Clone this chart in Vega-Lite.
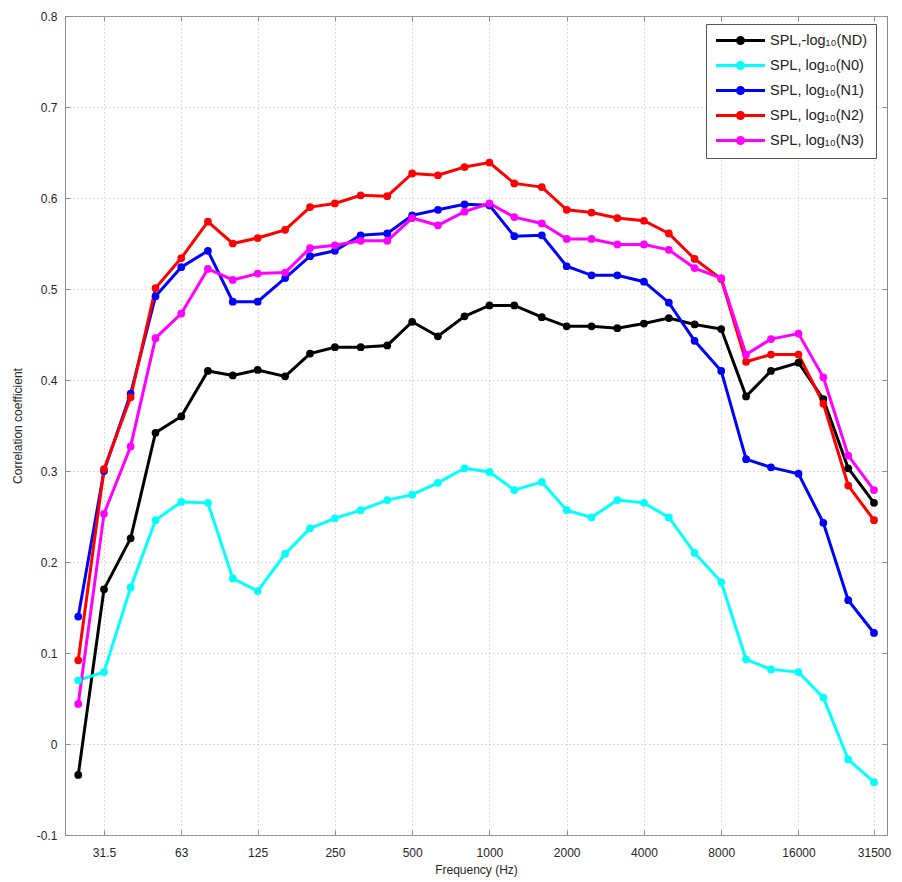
{
  "$schema": "https://vega.github.io/schema/vega-lite/v6.json",
  "width": 822,
  "height": 819,
  "autosize": {"type": "none"},
  "padding": {"left": 65, "top": 16, "right": 15, "bottom": 47},
  "background": "white",
  "config": {
    "view": {"stroke": "#8a8a8a", "strokeWidth": 1},
    "font": "Liberation Sans",
    "axis": {
      "labelFont": "Liberation Sans",
      "titleFont": "Liberation Sans",
      "labelFontSize": 12,
      "titleFontSize": 12,
      "titleFontWeight": "normal",
      "labelColor": "#262626",
      "titleColor": "#262626",
      "tickColor": "#8a8a8a",
      "domain": false,
      "gridColor": "#b8b8b8",
      "gridDash": [1, 3],
      "gridWidth": 1
    }
  },
  "data": {"values": [
    {"f":25,"s":"ND","r":-0.034},{"f":31.5,"s":"ND","r":0.170},{"f":40,"s":"ND","r":0.226},{"f":50,"s":"ND","r":0.342},{"f":63,"s":"ND","r":0.360},{"f":80,"s":"ND","r":0.410},{"f":100,"s":"ND","r":0.405},{"f":125,"s":"ND","r":0.411},{"f":160,"s":"ND","r":0.404},{"f":200,"s":"ND","r":0.429},{"f":250,"s":"ND","r":0.436},{"f":315,"s":"ND","r":0.436},{"f":400,"s":"ND","r":0.438},{"f":500,"s":"ND","r":0.464},{"f":630,"s":"ND","r":0.448},{"f":800,"s":"ND","r":0.470},{"f":1000,"s":"ND","r":0.482},{"f":1250,"s":"ND","r":0.482},{"f":1600,"s":"ND","r":0.469},{"f":2000,"s":"ND","r":0.459},{"f":2500,"s":"ND","r":0.459},{"f":3150,"s":"ND","r":0.457},{"f":4000,"s":"ND","r":0.462},{"f":5000,"s":"ND","r":0.468},{"f":6300,"s":"ND","r":0.461},{"f":8000,"s":"ND","r":0.456},{"f":10000,"s":"ND","r":0.382},{"f":12500,"s":"ND","r":0.410},{"f":16000,"s":"ND","r":0.419},{"f":20000,"s":"ND","r":0.379},{"f":25000,"s":"ND","r":0.303},{"f":31500,"s":"ND","r":0.265},
    {"f":25,"s":"N0","r":0.070},{"f":31.5,"s":"N0","r":0.079},{"f":40,"s":"N0","r":0.172},{"f":50,"s":"N0","r":0.246},{"f":63,"s":"N0","r":0.266},{"f":80,"s":"N0","r":0.265},{"f":100,"s":"N0","r":0.182},{"f":125,"s":"N0","r":0.168},{"f":160,"s":"N0","r":0.209},{"f":200,"s":"N0","r":0.237},{"f":250,"s":"N0","r":0.248},{"f":315,"s":"N0","r":0.257},{"f":400,"s":"N0","r":0.268},{"f":500,"s":"N0","r":0.274},{"f":630,"s":"N0","r":0.287},{"f":800,"s":"N0","r":0.303},{"f":1000,"s":"N0","r":0.299},{"f":1250,"s":"N0","r":0.279},{"f":1600,"s":"N0","r":0.288},{"f":2000,"s":"N0","r":0.257},{"f":2500,"s":"N0","r":0.249},{"f":3150,"s":"N0","r":0.268},{"f":4000,"s":"N0","r":0.265},{"f":5000,"s":"N0","r":0.249},{"f":6300,"s":"N0","r":0.210},{"f":8000,"s":"N0","r":0.178},{"f":10000,"s":"N0","r":0.093},{"f":12500,"s":"N0","r":0.082},{"f":16000,"s":"N0","r":0.079},{"f":20000,"s":"N0","r":0.051},{"f":25000,"s":"N0","r":-0.017},{"f":31500,"s":"N0","r":-0.042},
    {"f":25,"s":"N1","r":0.140},{"f":31.5,"s":"N1","r":0.300},{"f":40,"s":"N1","r":0.385},{"f":50,"s":"N1","r":0.492},{"f":63,"s":"N1","r":0.524},{"f":80,"s":"N1","r":0.542},{"f":100,"s":"N1","r":0.486},{"f":125,"s":"N1","r":0.486},{"f":160,"s":"N1","r":0.512},{"f":200,"s":"N1","r":0.536},{"f":250,"s":"N1","r":0.542},{"f":315,"s":"N1","r":0.559},{"f":400,"s":"N1","r":0.561},{"f":500,"s":"N1","r":0.581},{"f":630,"s":"N1","r":0.587},{"f":800,"s":"N1","r":0.593},{"f":1000,"s":"N1","r":0.592},{"f":1250,"s":"N1","r":0.558},{"f":1600,"s":"N1","r":0.559},{"f":2000,"s":"N1","r":0.525},{"f":2500,"s":"N1","r":0.515},{"f":3150,"s":"N1","r":0.515},{"f":4000,"s":"N1","r":0.508},{"f":5000,"s":"N1","r":0.485},{"f":6300,"s":"N1","r":0.443},{"f":8000,"s":"N1","r":0.410},{"f":10000,"s":"N1","r":0.313},{"f":12500,"s":"N1","r":0.304},{"f":16000,"s":"N1","r":0.297},{"f":20000,"s":"N1","r":0.243},{"f":25000,"s":"N1","r":0.158},{"f":31500,"s":"N1","r":0.122},
    {"f":25,"s":"N2","r":0.092},{"f":31.5,"s":"N2","r":0.302},{"f":40,"s":"N2","r":0.381},{"f":50,"s":"N2","r":0.501},{"f":63,"s":"N2","r":0.534},{"f":80,"s":"N2","r":0.574},{"f":100,"s":"N2","r":0.550},{"f":125,"s":"N2","r":0.556},{"f":160,"s":"N2","r":0.565},{"f":200,"s":"N2","r":0.590},{"f":250,"s":"N2","r":0.594},{"f":315,"s":"N2","r":0.603},{"f":400,"s":"N2","r":0.602},{"f":500,"s":"N2","r":0.627},{"f":630,"s":"N2","r":0.625},{"f":800,"s":"N2","r":0.634},{"f":1000,"s":"N2","r":0.639},{"f":1250,"s":"N2","r":0.616},{"f":1600,"s":"N2","r":0.612},{"f":2000,"s":"N2","r":0.587},{"f":2500,"s":"N2","r":0.584},{"f":3150,"s":"N2","r":0.578},{"f":4000,"s":"N2","r":0.575},{"f":5000,"s":"N2","r":0.561},{"f":6300,"s":"N2","r":0.533},{"f":8000,"s":"N2","r":0.511},{"f":10000,"s":"N2","r":0.420},{"f":12500,"s":"N2","r":0.428},{"f":16000,"s":"N2","r":0.428},{"f":20000,"s":"N2","r":0.374},{"f":25000,"s":"N2","r":0.284},{"f":31500,"s":"N2","r":0.246},
    {"f":25,"s":"N3","r":0.044},{"f":31.5,"s":"N3","r":0.253},{"f":40,"s":"N3","r":0.327},{"f":50,"s":"N3","r":0.446},{"f":63,"s":"N3","r":0.473},{"f":80,"s":"N3","r":0.522},{"f":100,"s":"N3","r":0.510},{"f":125,"s":"N3","r":0.517},{"f":160,"s":"N3","r":0.518},{"f":200,"s":"N3","r":0.545},{"f":250,"s":"N3","r":0.548},{"f":315,"s":"N3","r":0.553},{"f":400,"s":"N3","r":0.553},{"f":500,"s":"N3","r":0.578},{"f":630,"s":"N3","r":0.570},{"f":800,"s":"N3","r":0.585},{"f":1000,"s":"N3","r":0.594},{"f":1250,"s":"N3","r":0.579},{"f":1600,"s":"N3","r":0.572},{"f":2000,"s":"N3","r":0.555},{"f":2500,"s":"N3","r":0.555},{"f":3150,"s":"N3","r":0.549},{"f":4000,"s":"N3","r":0.549},{"f":5000,"s":"N3","r":0.543},{"f":6300,"s":"N3","r":0.523},{"f":8000,"s":"N3","r":0.512},{"f":10000,"s":"N3","r":0.428},{"f":12500,"s":"N3","r":0.445},{"f":16000,"s":"N3","r":0.451},{"f":20000,"s":"N3","r":0.403},{"f":25000,"s":"N3","r":0.317},{"f":31500,"s":"N3","r":0.279}
  ]},
  "layer": [
    {
      "mark": {"type": "line", "strokeWidth": 3, "point": {"filled": true, "size": 60, "opacity": 1}},
      "encoding": {
        "x": {
          "field": "f", "type": "quantitative",
          "scale": {"type": "log", "domain": [22.2, 35400], "nice": false},
          "axis": {
            "values": [31.5, 63, 125, 250, 500, 1000, 2000, 4000, 8000, 16000, 31500],
            "labelExpr": "'' + datum.value",
            "grid": true,
            "tickSize": -5,
            "labelPadding": 17,
            "title": "Frequency (Hz)",
            "titlePadding": 6
          }
        },
        "y": {
          "field": "r", "type": "quantitative",
          "scale": {"domain": [-0.1, 0.8], "nice": false, "zero": false},
          "axis": {
            "values": [-0.1, 0, 0.1, 0.2, 0.3, 0.4, 0.5, 0.6, 0.7, 0.8],
            "labelExpr": "'' + round(datum.value*10)/10",
            "grid": true,
            "tickSize": -5,
            "labelPadding": 13,
            "title": "Correlation coefficient",
            "titlePadding": 12
          }
        },
        "color": {
          "field": "s", "type": "nominal",
          "scale": {"domain": ["ND", "N0", "N1", "N2", "N3"], "range": ["#000000", "#00ffff", "#0000ff", "#ff0000", "#ff00ff"]},
          "legend": {
            "title": null,
            "orient": "none",
            "legendX": 641,
            "legendY": 8,
            "labelExpr": "datum.label == 'ND' ? 'SPL,-log₁₀(ND)' : 'SPL, log₁₀(' + datum.label + ')'",
            "labelFont": "Liberation Sans",
            "labelFontSize": 14.5,
            "labelColor": "#222222",
            "strokeColor": "#555555",
            "fillColor": "white",
            "padding": 8,
            "symbolType": "M-3.5,0L3.5,0M0.43,0A0.43,0.43,0,1,1,-0.43,0A0.43,0.43,0,1,1,0.43,0M0.11,0A0.11,0.11,0,1,1,-0.11,0A0.11,0.11,0,1,1,0.11,0",
            "symbolSize": 196,
            "symbolStrokeWidth": 3,
            "symbolOffset": 18,
            "labelOffset": 21,
            "rowPadding": 6
          }
        },
        "order": {"field": "f", "type": "quantitative"}
      }
    },
    {
      "mark": {"type": "point", "opacity": 0},
      "encoding": {
        "x": {"field": "f", "type": "quantitative",
          "axis": {"orient": "top", "values": [31.5, 63, 125, 250, 500, 1000, 2000, 4000, 8000, 16000, 31500], "labels": false, "grid": false, "tickSize": -5, "title": null}},
        "y": {"field": "r", "type": "quantitative",
          "axis": {"orient": "right", "values": [-0.1, 0, 0.1, 0.2, 0.3, 0.4, 0.5, 0.6, 0.7, 0.8], "labels": false, "grid": false, "tickSize": -5, "title": null}}
      }
    }
  ],
  "resolve": {"axis": {"x": "independent", "y": "independent"}}
}
